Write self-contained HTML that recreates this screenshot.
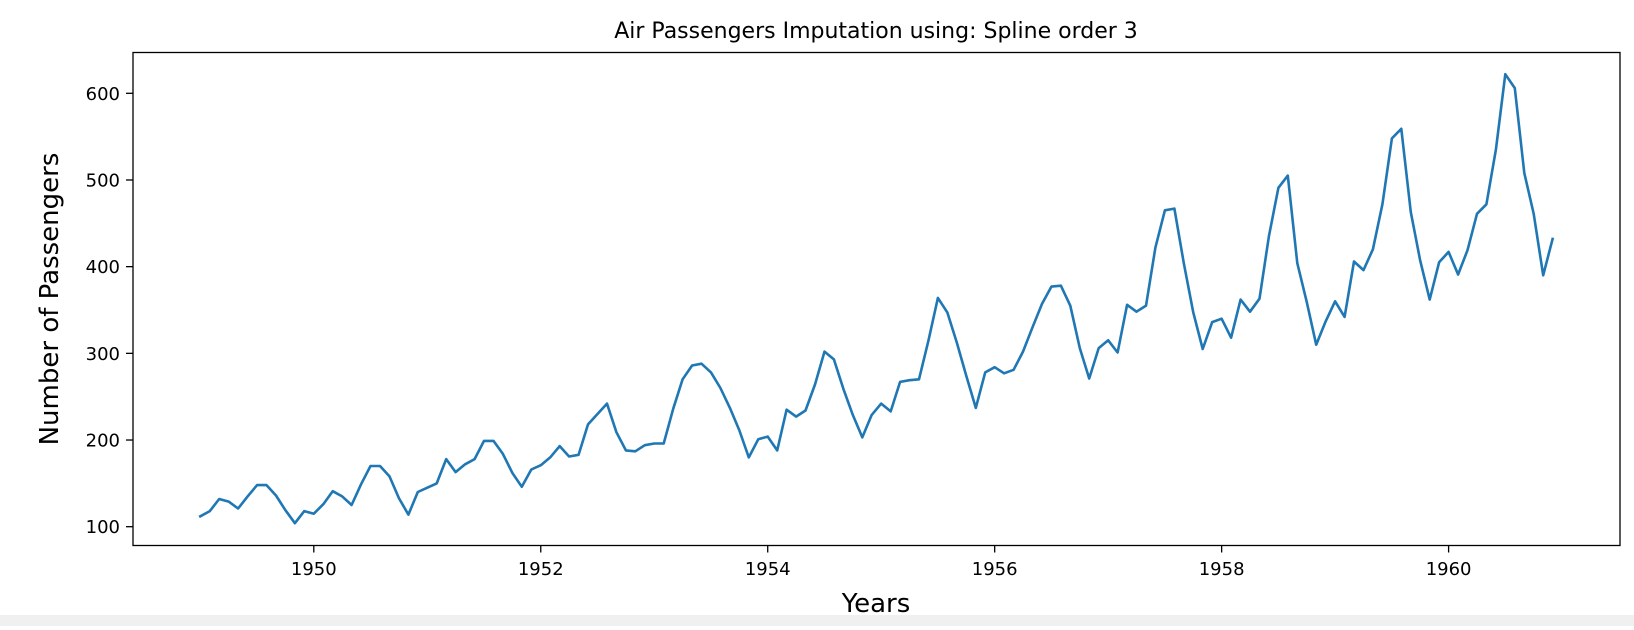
<!DOCTYPE html>
<html><head><meta charset="utf-8">
<style>
html,body{margin:0;padding:0;background:#fff;}
body{width:1634px;height:626px;overflow:hidden;position:relative;font-family:"DejaVu Sans","Liberation Sans",sans-serif;}
svg text{font-family:"DejaVu Sans","Liberation Sans",sans-serif;fill:#000;}
</style></head>
<body>
<svg id="chart" width="1634" height="626" viewBox="0 0 1634 626" xmlns="http://www.w3.org/2000/svg">
<rect x="0" y="0" width="1634" height="626" fill="#fff"/>
<rect x="0" y="615" width="1634" height="11" fill="#f0f0f0"/>
<text x="876" y="38" font-size="22" text-anchor="middle">Air Passengers Imputation using: Spline order 3</text>
<text x="876" y="612" font-size="26" text-anchor="middle">Years</text>
<text x="0" y="0" font-size="26" text-anchor="middle" transform="translate(58,299) rotate(-90)">Number of Passengers</text>
<g id="ticks"></g>
<polyline id="series" fill="none" stroke="#1f77b4" stroke-width="2.6" stroke-linejoin="round" stroke-linecap="square"/>
<rect x="133" y="52.5" width="1487" height="493" fill="none" stroke="#000" stroke-width="1.3"/>
</svg>
<script>
const startYear = 1949;
const passengers = [
112,118,132,129,121,135,148,148,136,119,104,118,
115,126,141,135,125,149,170,170,158,133,114,140,
145,150,178,163,172,178,199,199,184,162,146,166,
171,180,193,181,183,218,230,242,209,188,187,194,
196,196,236,270,286,288,278,260,237,211,180,201,
204,188,235,227,234,264,302,293,259,229,203,229,
242,233,267,269,270,315,364,347,312,274,237,278,
284,277,281,302,330,357,377,378,355,306,271,306,
315,301,356,348,355,422,465,467,404,347,305,336,
340,318,362,348,363,435,491,505,404,359,310,337,
360,342,406,396,420,472,548,559,463,407,362,405,
417,391,419,461,472,535,622,606,508,461,390,432];
const yTicks = [100,200,300,400,500,600];
const xTicks = [1950,1952,1954,1956,1958,1960];

function xs(t){ return 313.8 + (t-1950)*113.48; }
function ys(v){ return 526.7 - (v-100)*0.8668; }

const NS = "http://www.w3.org/2000/svg";
const g = document.getElementById('ticks');
yTicks.forEach(v=>{
  const l = document.createElementNS(NS,'line');
  
  
  l.setAttribute('x1',126); l.setAttribute('x2',133);
  l.setAttribute('y1',ys(v)); l.setAttribute('y2',ys(v));
  l.setAttribute('stroke','#000'); l.setAttribute('stroke-width','1.3');
  g.appendChild(l);
  const t = document.createElementNS(NS,'text');
  
  
  t.setAttribute('x',120); t.setAttribute('y',ys(v)+6.5);
  t.setAttribute('font-size','18'); t.setAttribute('text-anchor','end');
  t.textContent = v;
  g.appendChild(t);
});
xTicks.forEach(v=>{
  const l = document.createElementNS(NS,'line');
  
  
  l.setAttribute('x1',xs(v)); l.setAttribute('x2',xs(v));
  l.setAttribute('y1',545.5); l.setAttribute('y2',552.5);
  l.setAttribute('stroke','#000'); l.setAttribute('stroke-width','1.3');
  g.appendChild(l);
  const t = document.createElementNS(NS,'text');
  
  
  t.setAttribute('x',xs(v)); t.setAttribute('y',575);
  t.setAttribute('font-size','18'); t.setAttribute('text-anchor','middle');
  t.textContent = v;
  g.appendChild(t);
});
const pts = passengers.map((v,i)=> xs(startYear + i/12).toFixed(1)+','+ys(v).toFixed(1));
document.getElementById('series').setAttribute('points', pts.join(' '));
</script>
</body></html>
